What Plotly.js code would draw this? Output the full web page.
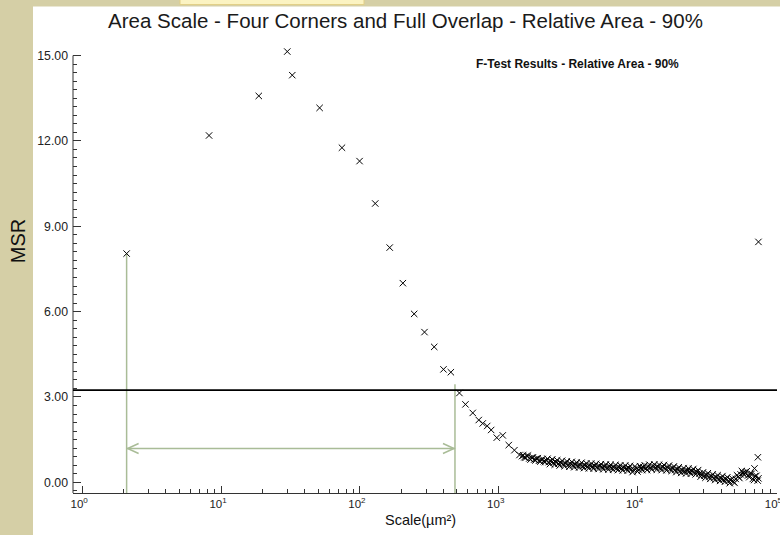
<!DOCTYPE html>
<html>
<head>
<meta charset="utf-8">
<script src="https://cdn.plot.ly/plotly-3.0.1.min.js"></script>
<style>html,body{margin:0;padding:0;background:#d5cfa6;}#chart{width:780px;height:535px;}</style>
</head>
<body>
<div id="chart"></div>
<script>
// ---- data ----
const scaleSparse = [2.09, 8.20, 18.7, 30.0, 32.6, 51.3, 74.3, 99.5, 129, 164, 204, 246, 292, 343, 400, 452, 521, 576, 650, 718, 767, 826, 882, 968, 1069, 1181, 1297, 1410];
const msrSparse   = [8.04, 12.19, 13.58, 15.14, 14.31, 13.16, 11.76, 11.29, 9.80, 8.25, 7.00, 5.92, 5.28, 4.76, 3.97, 3.87, 3.14, 2.74, 2.44, 2.19, 2.07, 1.98, 1.84, 1.57, 1.65, 1.31, 1.13, 0.96];

const scaleDense = [1470, 1530, 1590, 1660, 1730, 1800, 1870, 1950, 2030, 2110, 2200, 2290, 2380, 2480, 2580, 2690, 2800, 2920, 3030, 3160,
  3290, 3430, 3560, 3720, 3860, 4030, 4190, 4370, 4540, 4730, 4920, 5130, 5330, 5560, 5780, 6030, 6270, 6530, 6790, 7080,
  7360, 7670, 7980, 8320, 8650, 9020, 9380, 9770, 10200, 10600, 11000, 11500, 11900, 12400, 12900, 13500, 14000, 14600, 15200, 15800,
  16500, 17200, 17900, 18600, 19400, 20200, 21000, 21900, 22800, 23700, 24700, 25700, 26700, 27900, 29000, 30200, 31400, 32700, 34000, 35500,
  36900, 38500, 40000, 41700, 43400, 45200, 47000, 49000, 50900, 53100, 55200, 57500, 59800, 62400, 64900, 67600, 70300, 73300];
const msrDense = [0.92, 0.88, 0.93, 0.84, 0.86, 0.80, 0.83, 0.76, 0.79, 0.74, 0.77, 0.71, 0.74, 0.69, 0.72, 0.66, 0.69, 0.64, 0.67, 0.62,
  0.65, 0.60, 0.63, 0.59, 0.62, 0.57, 0.60, 0.56, 0.59, 0.55, 0.58, 0.54, 0.57, 0.53, 0.56, 0.52, 0.55, 0.51, 0.54, 0.50,
  0.53, 0.49, 0.52, 0.48, 0.51, 0.46, 0.44, 0.49, 0.45, 0.50, 0.53, 0.49, 0.55, 0.51, 0.56, 0.52, 0.55, 0.50, 0.54, 0.49,
  0.52, 0.47, 0.50, 0.44, 0.46, 0.41, 0.43, 0.39, 0.41, 0.38, 0.40, 0.36, 0.37, 0.31, 0.27, 0.24, 0.26, 0.20, 0.22, 0.16,
  0.18, 0.13, 0.15, 0.10, 0.12, 0.05, 0.08, 0.02, 0.12, 0.20, 0.28, 0.33, 0.36, 0.24, 0.30, 0.12, 0.22, 0.06];

const scaleDense2 = [1500, 1560, 1625, 1695, 1765, 1835, 1910, 1990, 2070, 2155,
  2245, 2335, 2430, 2530, 2635, 2745, 2860, 2975, 3095, 3225,
  3360, 3495, 3640, 3790, 3945, 4110, 4280, 4455, 4635, 4825,
  5025, 5230, 5445, 5670, 5905, 6150, 6400, 6660, 6935, 7220,
  7515, 7825, 8150, 8485, 8835, 9200, 9575, 9985, 10400, 10800,
  11250, 11700, 12150, 12650, 13200, 13750, 14300, 14900, 15500, 16150,
  16850, 17550, 18250, 19000, 19800, 20600, 21450, 22350, 23250, 24200,
  25200, 26200, 27300, 28450, 29600, 30800, 32050, 33350, 34750, 36200,
  37700, 39250, 40850, 42550, 44300, 46100, 48000, 49950, 52000, 54150,
  56350, 58650, 61100, 63650, 66250, 68950, 71800];
const msrDense2 = [0.95, 0.86, 0.94, 0.80, 0.88, 0.77, 0.85, 0.73, 0.82, 0.71,
  0.83, 0.64, 0.81, 0.62, 0.78, 0.59, 0.76, 0.57, 0.74, 0.55,
  0.72, 0.53, 0.70, 0.52, 0.69, 0.50, 0.67, 0.49, 0.66, 0.48,
  0.65, 0.47, 0.64, 0.46, 0.63, 0.45, 0.62, 0.44, 0.61, 0.43,
  0.60, 0.42, 0.59, 0.41, 0.58, 0.36, 0.56, 0.38, 0.57, 0.43,
  0.60, 0.43, 0.62, 0.45, 0.63, 0.45, 0.62, 0.43, 0.61, 0.42,
  0.59, 0.40, 0.56, 0.36, 0.53, 0.33, 0.50, 0.31, 0.49, 0.30,
  0.47, 0.28, 0.43, 0.20, 0.35, 0.16, 0.32, 0.12, 0.28, 0.08,
  0.25, 0.05, 0.22, 0.02, 0.18, -0.03, 0.14, -0.02, 0.25, 0.15,
  0.40, 0.26, 0.39, 0.18, 0.30, 0.08, 0.23];

const scaleTail = [69500, 73500, 74200, 74200];
const msrTail   = [0.49, 0.88, 0.14, 8.45];

const fCritical = 3.24;          // horizontal threshold line
const lowerScale = 2.09;         // left green bound (first point)
const lowerTop = 8.04;
const upperScale = 484;          // right green bound
const upperTop = 3.45;
const arrowMsr = 1.19;

const yTickVals = [0, 3, 6, 9, 12, 15];
const yAxisTop = 15;
const xTickVals = [1, 10, 100, 1000, 10000, 100000];
const xTickText = ["10<sup>0</sup>", "10<sup>1</sup>", "10<sup>2</sup>", "10<sup>3</sup>", "10<sup>4</sup>", "10<sup>5</sup>"];
const xMinorVals = [];
[1, 10, 100, 1000, 10000].forEach(d => { for (let m = 2; m <= 9; m++) xMinorVals.push(m * d); });

const xRange = [-0.066, 5.004];
const yRange = [-0.375, 15.3];

// ---- figure ----
const FONT = "Arial, 'Liberation Sans', sans-serif";
const GREEN = "#a9bc97";
const MARK = {symbol: "x-thin-open", size: 6.4, color: "#000", line: {width: 1, color: "#000"}};

const traces = [
  {x: scaleSparse.concat(scaleDense, scaleTail), y: msrSparse.concat(msrDense, msrTail),
   type: "scatter", mode: "markers", marker: MARK, cliponaxis: false, showlegend: false},
  {x: scaleDense2, y: msrDense2,
   type: "scatter", mode: "markers", marker: MARK, cliponaxis: false, showlegend: false}
];

const pw = 704, ph = 446.5; // plot area in px
const shapes = [
  {type: "rect", xref: "paper", yref: "paper", x0: (33 - 73) / pw, x1: (781 - 73) / pw, y0: (493 - 536) / ph, y1: (493 - 6) / ph,
   fillcolor: "#ffffff", line: {width: 0}, layer: "below"},
  {type: "rect", xref: "paper", yref: "paper", x0: (180 - 73) / pw, x1: (364 - 73) / pw, y0: (493 - 4) / ph, y1: (493 + 2) / ph,
   fillcolor: "#fbf3c2", line: {width: 1, color: "#e2cf86"}, layer: "below"},
  // y axis line (stops at 15)
  {type: "line", xref: "paper", yref: "y", x0: 0, x1: 0, y0: yRange[0], y1: yAxisTop, line: {color: "#333", width: 1}},
  // threshold line
  {type: "line", xref: "paper", yref: "y", x0: 0, x1: 1, y0: fCritical, y1: fCritical, line: {color: "#000", width: 1.6}},
  // green bounds
  {type: "line", xref: "x", yref: "y", x0: lowerScale, x1: lowerScale, y0: yRange[0], y1: lowerTop, line: {color: GREEN, width: 1.5}, layer: "below"},
  {type: "line", xref: "x", yref: "y", x0: upperScale, x1: upperScale, y0: yRange[0], y1: upperTop, line: {color: GREEN, width: 1.5}, layer: "below"},
  // arrow shaft and heads
  {type: "line", xref: "x", yref: "y", x0: lowerScale, x1: upperScale, y0: arrowMsr, y1: arrowMsr, line: {color: GREEN, width: 1.5}},
  {type: "path", xref: "x", yref: "y", xsizemode: "pixel", ysizemode: "pixel", xanchor: lowerScale, yanchor: arrowMsr,
   path: "M 12 5 L 1 0 L 12 -5", line: {color: GREEN, width: 1.5}},
  {type: "path", xref: "x", yref: "y", xsizemode: "pixel", ysizemode: "pixel", xanchor: upperScale, yanchor: arrowMsr,
   path: "M -12 5 L -1 0 L -12 -5", line: {color: GREEN, width: 1.5}}
];

const layout = {
  width: 780, height: 535,
  margin: {l: 73, r: 3, t: 46.5, b: 42, pad: 0},
  paper_bgcolor: "#d5cfa6",
  plot_bgcolor: "#ffffff",
  font: {family: FONT, color: "#222"},
  title: {text: "Area Scale - Four Corners and Full Overlap - Relative Area - 90%",
          font: {family: FONT, size: 20.5, color: "#1a1a1a"},
          xref: "container", yref: "container", x: 405.5 / 780, xanchor: "center", y: 1 - 21 / 535, yanchor: "middle"},
  xaxis: {
    type: "log", range: xRange, showgrid: false, zeroline: false,
    showline: true, linecolor: "#333", linewidth: 1,
    tickmode: "array", tickvals: xTickVals, ticktext: xTickText,
    ticks: "inside", ticklen: 7, tickwidth: 1, tickcolor: "#333",
    tickfont: {family: FONT, size: 11.5, color: "#222"}, ticklabelshift: -3, ticklabeloverflow: "allow",
    minor: {tickmode: "array", tickvals: xMinorVals, ticks: "inside", ticklen: 4, tickwidth: 1, tickcolor: "#333", showgrid: false},
    fixedrange: true
  },
  yaxis: {
    range: yRange, showgrid: false, zeroline: false, showline: false,
    tickmode: "array", tickvals: yTickVals, tickformat: ".2f",
    ticks: "inside", ticklen: 8, tickwidth: 1, tickcolor: "#333",
    tickfont: {family: FONT, size: 12.3, color: "#222"}, ticklabelstandoff: 4,
    minor: {dtick: 0.3, tick0: 0, ticks: "inside", ticklen: 4, tickwidth: 1, tickcolor: "#333", showgrid: false},
    fixedrange: true
  },
  shapes: shapes,
  annotations: [
    {text: "F-Test Results - Relative Area - 90%", xref: "paper", yref: "paper",
     x: (577.5 - 73) / pw, y: (493 - 64) / ph, xanchor: "center", yanchor: "middle", showarrow: false,
     font: {family: FONT, size: 12, color: "#111", weight: "bold"}},
    {text: "MSR", xref: "paper", yref: "paper", x: (18 - 73) / pw, y: (493 - 241) / ph, textangle: -90,
     xanchor: "center", yanchor: "middle", showarrow: false, font: {family: FONT, size: 20, color: "#111"}},
    {text: "Scale(\u00b5m\u00b2)", xref: "paper", yref: "paper", x: (420 - 73) / pw, y: (493 - 520) / ph,
     xanchor: "center", yanchor: "middle", showarrow: false, font: {family: FONT, size: 14.5, color: "#111"}}
  ]
};

Plotly.newPlot("chart", traces, layout, {displayModeBar: false, staticPlot: true});
</script>
</body>
</html>
